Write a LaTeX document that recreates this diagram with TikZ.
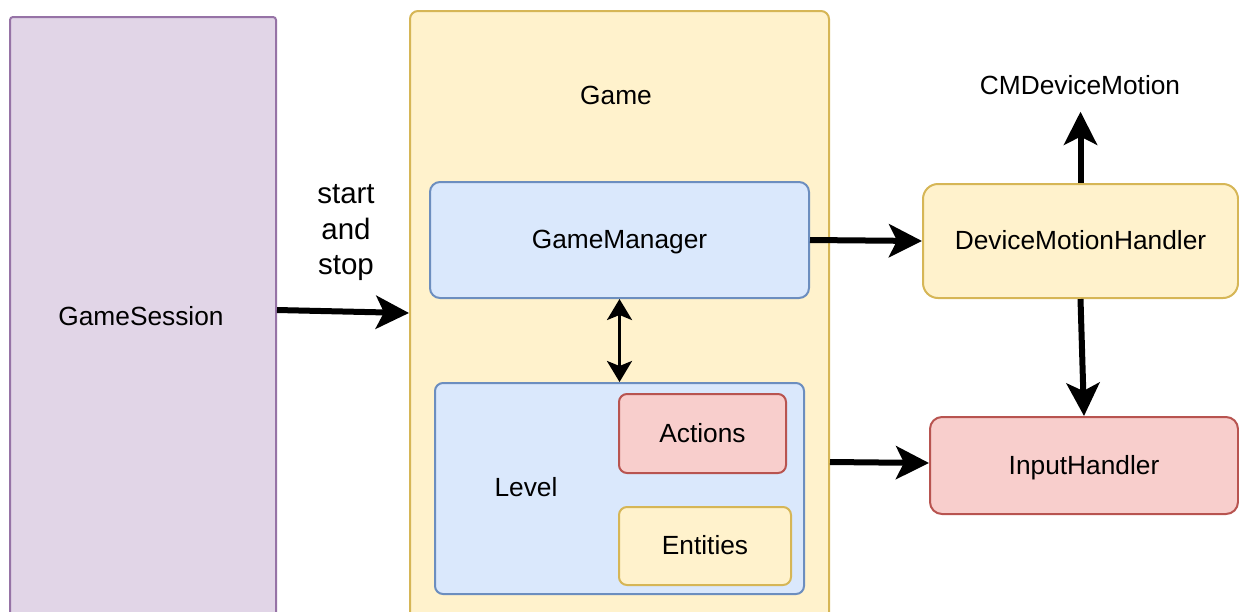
\documentclass[tikz,border=0pt]{standalone}
\usepackage{fontspec}
\setmainfont{Liberation Sans}
\usetikzlibrary{arrows.meta,calc}
\definecolor{purpleFill}{HTML}{E1D5E7}
\definecolor{purpleLine}{HTML}{9673A6}
\definecolor{yellowFill}{HTML}{FFF2CC}
\definecolor{yellowLine}{HTML}{D6B656}
\definecolor{blueFill}{HTML}{DAE8FC}
\definecolor{blueLine}{HTML}{6C8EBF}
\definecolor{redFill}{HTML}{F8CECC}
\definecolor{redLine}{HTML}{B85450}
\begin{document}
\begin{tikzpicture}[x=1pt,y=-1pt,
  txt/.style={font=\fontsize{26.3}{31}\selectfont, text height=19pt, text depth=2pt, inner sep=0pt},
  box/.style={txt, draw, line width=2pt, anchor=north west},
  purplebox/.style={box, fill=purpleFill, draw=purpleLine},
  yellowbox/.style={box, fill=yellowFill, draw=yellowLine},
  bluebox/.style={box, fill=blueFill, draw=blueLine},
  redbox/.style={box, fill=redFill, draw=redLine},
  bigarrow/.style={line width=6pt, -{Stealth[length=33pt,width=33pt,inset=8pt]}},
  thinarrow/.style={line width=3pt, {Stealth[length=21pt,width=25pt,inset=5pt]}-{Stealth[length=21pt,width=25pt,inset=5pt]}}
]
\useasboundingbox (0,0) rectangle (1239,611);
\clip (0,0) rectangle (1239,611);

% left column: the session
\node[purplebox, rounded corners=3pt, minimum width=266pt, minimum height=640pt] (gs) at (9,16) {};
\node[txt] (gslabel) at (141,317) {GameSession};

% the game container and its parts
\node[yellowbox, rounded corners=8pt, minimum width=419pt, minimum height=640pt] (game) at (409,10) {};
\node[txt] (gamelabel) at (616,96) {Game};
\node[bluebox, rounded corners=10pt, minimum width=379pt, minimum height=116pt] (gm) at (429,181) {GameManager};
\node[bluebox, rounded corners=8pt, minimum width=369pt, minimum height=211pt] (level) at (434,382) {};
\node[txt] (levellabel) at (526,488) {Level};
\node[redbox, rounded corners=8pt, minimum width=167pt, minimum height=79pt] (actions) at (618,393) {Actions};
\node[yellowbox, rounded corners=8pt, minimum width=172pt, minimum height=78pt] (entities) at (618,506) {Entities};

% right column: input side
\node[yellowbox, rounded corners=15pt, minimum width=315pt, minimum height=114pt] (dmh) at (922,183) {DeviceMotionHandler};
\node[redbox, rounded corners=12pt, minimum width=308pt, minimum height=97pt] (ih) at (929,416) {InputHandler};
\node[txt, inner ysep=15pt] (cm) at (1080,86) {CMDeviceMotion};

% control label
\node[font=\fontsize{29.5}{35.5}\selectfont, align=center, inner sep=0pt] (ctrl) at (346,233) {start\\and\\stop};

% connectors
\draw[bigarrow] ($(gs.north east)+(0,294)$) -- ($(game.north west)+(0,303)$);
\draw[bigarrow] (gm.east) -- (dmh.west);
\draw[bigarrow] ($(game.north east)+(0,452)$) -- ($(ih.north west)+(0,47)$);
\draw[bigarrow] (dmh.north) -- (dmh.north |- cm.south);
\draw[bigarrow] (dmh.south) -- (ih.north);
\draw[thinarrow] (gm.south) -- (level.north);
\end{tikzpicture}
\end{document}
